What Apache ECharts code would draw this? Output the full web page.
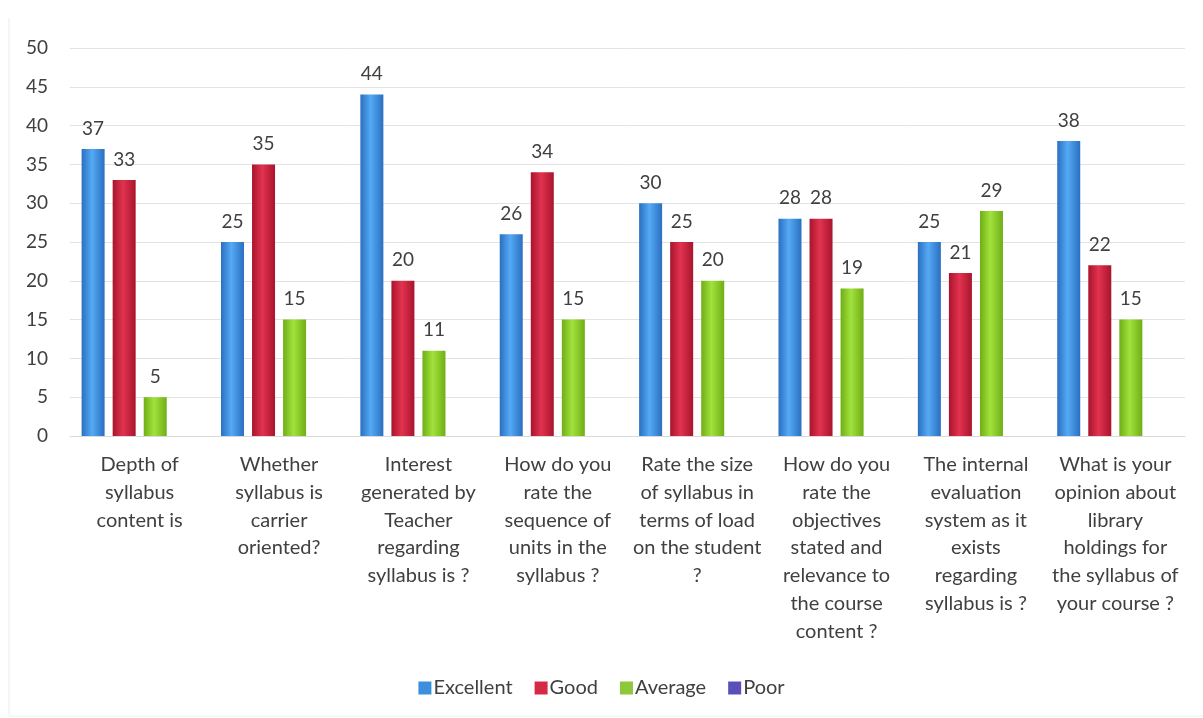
<!DOCTYPE html>
<html>
<head>
<meta charset="utf-8">
<script src="https://cdn.jsdelivr.net/npm/echarts@6/dist/echarts.min.js"></script>
<style>
html,body{margin:0;padding:0;background:#fff;}
#c{width:1203px;height:718px;}
</style>
</head>
<body>
<div id="c"></div>
<script>
const categories = [
  "Depth of\nsyllabus\ncontent is",
  "Whether\nsyllabus is\ncarrier\noriented?",
  "Interest\ngenerated by\nTeacher\nregarding\nsyllabus is ?",
  "How do you\nrate the\nsequence of\nunits in the\nsyllabus ?",
  "Rate the size\nof syllabus in\nterms of load\non the student\n?",
  "How do you\nrate the\nobjectives\nstated and\nrelevance to\nthe course\ncontent ?",
  "The internal\nevaluation\nsystem as it\nexists\nregarding\nsyllabus is ?",
  "What is your\nopinion about\nlibrary\nholdings for\nthe syllabus of\nyour course ?"
];
const seriesNames = ["Excellent", "Good", "Average", "Poor"];
const excellent = [37, 25, 44, 26, 30, 28, 25, 38];
const good = [33, 35, 20, 34, 25, 28, 21, 22];
const average = [5, 15, 11, 15, 20, 19, 29, 15];
const poor = [null, null, null, null, null, null, null, null];
const yTicks = {min: 0, max: 50, interval: 5};

const palettes = [
  ['#2a6fc0', '#55aaf4', '#2a6fc0'],
  ['#a8142c', '#e23350', '#a8142c'],
  ['#6fae16', '#a2e23c', '#6fae16'],
  ['#4b3fa0', '#7466d0', '#4b3fa0']
];
const legendColors = ['#3b8fdc', '#d42a45', '#8cc83a', '#5a4fb8'];
function grad(p) {
  return new echarts.graphic.LinearGradient(0, 0, 1, 0, [
    {offset: 0, color: p[0]}, {offset: 0.45, color: p[1]}, {offset: 1, color: p[2]}
  ]);
}
const dataSets = [excellent, good, average, poor];
const font = 'Lato, "Open Sans", sans-serif';

const chart = echarts.init(document.getElementById('c'));
chart.setOption({
  backgroundColor: '#fff',
  animation: false,
  textStyle: {fontFamily: font},
  graphic: [
    {type: 'line', shape: {x1: 9, y1: 18, x2: 9, y2: 716}, style: {stroke: '#ececec', lineWidth: 1}, silent: true},
    {type: 'line', shape: {x1: 9, y1: 716, x2: 1203, y2: 716}, style: {stroke: '#f0f0f0', lineWidth: 1}, silent: true}
  ],
  grid: {left: 70, right: 18, top: 48, bottom: 282},
  legend: {
    top: 673,
    left: 'center',
    itemWidth: 13, itemHeight: 13, itemGap: 22,
    icon: 'rect',
    textStyle: {fontSize: 20, color: '#404040', fontFamily: font, padding: [0, 0, 0, -3]},
    data: seriesNames.map((n, i) => ({name: n, itemStyle: {color: legendColors[i]}}))
  },
  xAxis: {
    type: 'category',
    data: categories,
    axisLine: {lineStyle: {color: '#d9d9d9'}},
    axisTick: {show: false},
    axisLabel: {
      interval: 0, fontSize: 20, color: '#404040', lineHeight: 27.7, margin: 15,
      fontFamily: font, verticalAlign: 'top'
    }
  },
  yAxis: {
    type: 'value',
    min: yTicks.min, max: yTicks.max, interval: yTicks.interval,
    axisLine: {show: false},
    axisTick: {show: false},
    splitLine: {lineStyle: {color: '#e3e3e3'}},
    axisLabel: {fontSize: 19, color: '#404040', margin: 22, fontFamily: font}
  },
  series: seriesNames.map((n, i) => ({
    name: n,
    type: 'bar',
    data: dataSets[i],
    barWidth: 23,
    barGap: '35%',
    itemStyle: {color: grad(palettes[i])},
    label: {
      show: true, position: 'top', distance: 11, fontSize: 19,
      color: '#404040', fontFamily: font
    }
  }))
});
</script>
</body>
</html>
